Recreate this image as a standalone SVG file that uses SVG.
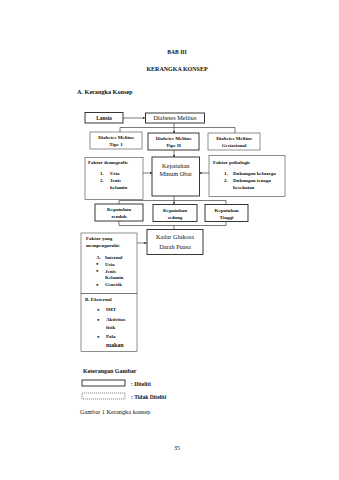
<svg xmlns="http://www.w3.org/2000/svg" width="339" height="480" viewBox="0 0 339 480">
<style>
text{font-family:"Liberation Serif","Times New Roman",serif;fill:#111}
.b{font-weight:bold}
.s{font-size:5px;font-weight:bold}
.bl{font-size:7px;font-weight:bold}
.m{font-size:6.3px}
.box{fill:#fff;stroke:#222;stroke-width:0.9}
.thin{fill:#fff;stroke:#444;stroke-width:0.6}
.dash{fill:#fff;stroke:#444;stroke-width:0.6;stroke-dasharray:1.2 0.8}
.ln{fill:none;stroke:#222;stroke-width:0.6}
</style>
<defs>
<marker id="ah" viewBox="0 0 6 6" refX="6" refY="3" markerWidth="3.5" markerHeight="3.5" orient="auto">
<path d="M0,0L6,3L0,6z" fill="#111"/>
</marker>
</defs>
<rect width="339" height="480" fill="#fff"/>
<text x="177" y="54" text-anchor="middle" class="b" font-size="5.6">BAB III</text>
<text x="177" y="71" text-anchor="middle" class="b" font-size="6">KERANGKA KONSEP</text>
<text x="77" y="94" class="b" font-size="6.2">A.  Kerangka Konsep</text>

<g id="connectors">
<line x1="123" y1="118" x2="145" y2="118" class="ln" marker-end="url(#ah)"/>
<path d="M174,123V127.5M120,132V127.5H235V133" class="ln"/>
<line x1="174" y1="127.5" x2="174" y2="133" class="ln" marker-end="url(#ah)"/>
<line x1="174" y1="150" x2="174" y2="157" class="ln" marker-end="url(#ah)"/>
<line x1="143" y1="173" x2="152" y2="173" class="ln" marker-end="url(#ah)"/>
<line x1="209" y1="173" x2="199.5" y2="173" class="ln" marker-end="url(#ah)"/>
<path d="M174,196V200.5M119,204V200.5H226V204" class="ln"/>
<line x1="174" y1="200.5" x2="174" y2="204" class="ln" marker-end="url(#ah)"/>
<path d="M119,221V225.5H226V221M174,225.5V229.5" class="ln"/>
<line x1="137" y1="243" x2="146.5" y2="243" class="ln" marker-end="url(#ah)"/>
</g>

<g id="lansia"><rect x="85" y="112.5" width="38" height="10.5" class="box"/><text x="104" y="120" text-anchor="middle" class="b" font-size="5.4">Lansia</text></g>
<g id="dm"><rect x="145.5" y="113" width="59" height="10" class="box"/><text x="175" y="120.3" text-anchor="middle" class="m">Diabetes Melitus</text></g>

<g id="tipe1"><rect x="90" y="132" width="52" height="17" class="thin"/><text x="116" y="139" text-anchor="middle" class="s">Diabetes Melitus</text><text x="116" y="146" text-anchor="middle" class="s">Tipe 1</text></g>
<g id="tipe2"><rect x="148" y="133" width="51" height="17" class="box"/><text x="173.5" y="140" text-anchor="middle" class="s">Diabetes Melitus</text><text x="173.5" y="147" text-anchor="middle" class="s">Tipe II</text></g>
<g id="gest"><rect x="208" y="133" width="52" height="17" class="thin"/><text x="234" y="140" text-anchor="middle" class="s">Diabetes Melitus</text><text x="234" y="147" text-anchor="middle" class="s">Gestasional</text></g>

<g id="demografis"><rect x="85" y="157.5" width="58" height="42" class="thin"/>
<text x="88" y="164" class="s">Faktor demografis</text>
<text x="100" y="175" class="s">1.</text><text x="110" y="175" class="s">Usia</text>
<text x="100" y="182" class="s">2.</text><text x="110" y="182" class="s">Jenis</text>
<text x="110" y="189" class="s">kelamin</text></g>

<g id="kmo"><rect x="152" y="157" width="47.5" height="39" class="box"/><text x="175.7" y="168" text-anchor="middle" class="m">Kepatuhan</text><text x="175.7" y="176" text-anchor="middle" class="m">Minum Obat</text></g>

<g id="psikologis"><rect x="209" y="155.5" width="76" height="41" class="thin"/>
<text x="213" y="164" class="s">Faktor psikologis</text>
<text x="224" y="175" class="s">1.</text><text x="233" y="175" class="s">Dukungan keluarga</text>
<text x="224" y="182" class="s">2.</text><text x="233" y="182" class="s">Dukungan tenaga</text>
<text x="233" y="189" class="s">kesehatan</text></g>

<g id="rendah"><rect x="95" y="204" width="48" height="17" class="box"/><text x="119" y="211" text-anchor="middle" class="s">Kepatuhan</text><text x="119" y="218" text-anchor="middle" class="s">rendah</text></g>
<g id="sedang"><rect x="153" y="204.5" width="44" height="17" class="box"/><text x="175" y="211.5" text-anchor="middle" class="s">Kepatuhan</text><text x="175" y="218.5" text-anchor="middle" class="s">sedang</text></g>
<g id="tinggi"><rect x="205" y="204.5" width="43" height="17" class="box"/><text x="226.5" y="211.5" text-anchor="middle" class="s">Kepatuhan</text><text x="226.5" y="218.5" text-anchor="middle" class="s">Tinggi</text></g>

<g id="kadar"><rect x="147" y="229.5" width="56" height="25" class="box"/><text x="175" y="239" text-anchor="middle" class="m">Kadar Glukosa</text><text x="175" y="249" text-anchor="middle" class="m">Darah Puasa</text></g>

<g id="faktor"><rect x="81" y="233" width="56" height="60.5" class="thin"/>
<text x="86" y="240" class="s">Faktor yang</text>
<text x="86" y="247" class="s">mempengaruhi:</text>
<text x="96" y="259" class="s">A.</text><text x="105" y="259" class="s">Internal</text>
<text x="96" y="266" class="bl">•</text><text x="105" y="265.5" class="s">Usia</text>
<text x="96" y="273" class="bl">•</text><text x="105" y="272.5" class="s">Jenis</text>
<text x="105" y="279" class="s">Kelamin</text>
<text x="96" y="286.5" class="bl">•</text><text x="105" y="286" class="s">Genetik</text>
<rect x="81" y="293.5" width="56" height="58" class="thin"/>
<text x="85" y="301" class="s">B. Eksternal</text>
<text x="97" y="311.5" class="bl">•</text><text x="106" y="311" class="s">IMT</text>
<text x="97" y="321.5" class="bl">•</text><text x="106" y="321" class="s">Aktivitas</text>
<text x="106" y="329" class="s">fisik</text>
<text x="97" y="338.5" class="bl">•</text><text x="106" y="338" class="s">Pola</text>
<text x="106" y="347" class="b" font-size="6">makan</text></g>

<g id="legend">
<text x="83" y="373" class="b" font-size="6">Keterangan Gambar</text>
<rect x="82" y="380" width="43" height="6" class="box"/>
<text x="131" y="386" class="b" font-size="5.6">: Diteliti</text>
<rect x="82" y="393" width="43" height="6" class="dash"/>
<text x="131" y="399" class="b" font-size="5.6">: Tidak Diteliti</text>
<text x="80" y="414" font-size="6.3">Gambar 1 Kerangka konsep</text>
</g>
<text x="177" y="450" text-anchor="middle" font-size="6">35</text>
</svg>
